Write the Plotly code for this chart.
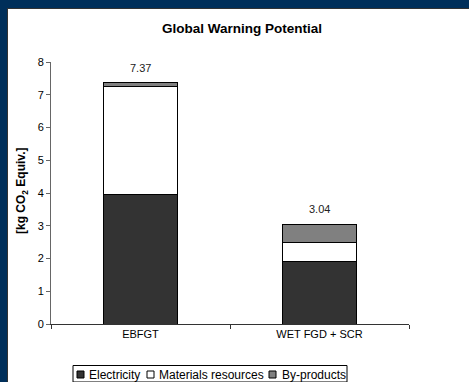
import plotly.graph_objects as go

categories = ["EBFGT", "WET FGD + SCR"]
electricity = [3.94, 1.92]
materials = [3.31, 0.56]
byproducts = [0.12, 0.56]
totals = [7.37, 3.04]
total_labels = ["7.37", "3.04"]
y_ticks = [0, 1, 2, 3, 4, 5, 6, 7, 8]
series_names = ["Electricity", "Materials resources", "By-products"]
series_colors = ["#333333", "#ffffff", "#808080"]

FONT = "Liberation Sans, Arial, sans-serif"
W, H = 469, 382
L, R, T, B = 51, 60, 62, 58
pw, ph = W - L - R, H - T - B

def px(x):
    return (x - L) / pw

def py(y):
    return (H - B - y) / ph

fig = go.Figure()
bar_line = dict(color="#000000", width=1)
for name, vals, col in zip(series_names, [electricity, materials, byproducts], series_colors):
    fig.add_trace(go.Bar(name=name, x=categories, y=vals,
                         marker=dict(color=col, line=bar_line), width=0.41))

for cat, tot, lab in zip(categories, totals, total_labels):
    fig.add_annotation(x=cat, y=tot, text=lab, showarrow=False, yanchor="bottom",
                       yshift=7, font=dict(family=FONT, size=11, color="#222222"))

# navy frame bands (top and left), kept inside the figure
navy = "#002f5a"
fig.add_shape(type="rect", xref="paper", yref="paper",
              x0=px(0), x1=px(7), y0=py(H), y1=py(0),
              fillcolor=navy, line=dict(width=0), layer="above")
fig.add_shape(type="rect", xref="paper", yref="paper",
              x0=px(0), x1=px(W), y0=py(8), y1=py(0),
              fillcolor=navy, line=dict(width=0), layer="above")
fig.add_shape(type="line", xref="paper", yref="paper",
              x0=px(7), x1=px(W), y0=py(8.5), y1=py(8.5),
              line=dict(color="#333333", width=1), layer="above")
fig.add_shape(type="line", xref="paper", yref="paper",
              x0=px(7.5), x1=px(7.5), y0=py(H), y1=py(8),
              line=dict(color="#333333", width=1), layer="above")

# y axis title
fig.add_annotation(text="<b>[kg CO<sub>2</sub> Equiv.]</b>", xref="paper", yref="paper",
                   x=px(22), y=py(191), textangle=-90, showarrow=False,
                   xanchor="center", yanchor="middle",
                   font=dict(family=FONT, size=12, color="#000000"))

# legend box (drawn)
fig.add_shape(type="rect", xref="paper", yref="paper",
              x0=px(73), x1=px(347), y0=py(H), y1=py(365.5),
              fillcolor="#ffffff", line=dict(color="#000000", width=1))
sq_x = [77, 147, 269]
txt_x = [87, 157, 279.5]
for name, col, sx, tx in zip(series_names, series_colors, sq_x, txt_x):
    fig.add_shape(type="rect", xref="paper", yref="paper",
                  x0=px(sx), x1=px(sx + 7), y0=py(378), y1=py(371),
                  fillcolor=col, line=dict(color="#000000", width=1))
    fig.add_annotation(text=name, xref="paper", yref="paper", x=px(tx), y=py(374.5),
                       xanchor="left", yanchor="middle", showarrow=False,
                       font=dict(family=FONT, size=12, color="#000000"))

fig.update_layout(
    width=W, height=H,
    barmode="stack",
    paper_bgcolor="#ffffff", plot_bgcolor="#ffffff",
    margin=dict(l=L, r=R, t=T, b=B, pad=0),
    font=dict(family=FONT, size=11, color="#000000"),
    title=dict(text="<b>Global Warning Potential</b>", x=242 / W, xref="container",
               y=1 - 28 / H, yref="container", xanchor="center", yanchor="middle",
               font=dict(family=FONT, size=13.5, color="#000000")),
    showlegend=False,
    xaxis=dict(showline=True, linecolor="#333333", linewidth=1, ticks="outside",
               tickson="boundaries", ticklen=4, tickcolor="#333333",
               showgrid=False, tickfont=dict(family=FONT, size=11, color="#000000")),
    yaxis=dict(range=[0, 8], tickvals=y_ticks, showline=True, linecolor="#666666",
               linewidth=1, ticks="outside", ticklen=4, tickcolor="#666666",
               showgrid=False, zeroline=False,
               tickfont=dict(family=FONT, size=11, color="#000000")),
)

fig.write_html("out.html", config={"displayModeBar": False},
               post_script="document.body.style.margin='0';document.body.style.overflow='hidden';")
